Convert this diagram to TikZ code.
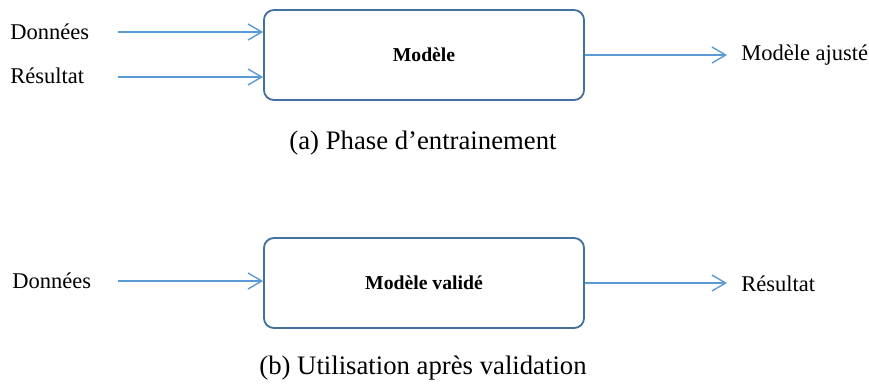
\documentclass[tikz,border=0pt]{standalone}
\usepackage{fontspec}
\setmainfont{Liberation Serif}
\usetikzlibrary{arrows.meta}
\definecolor{boxblue}{HTML}{41719C}
\definecolor{arrowblue}{HTML}{5B9BD5}

\begin{document}
\begin{tikzpicture}[x=0.025cm, y=-0.025cm,
  modelbox/.style={draw=boxblue, line width=1.3pt, rounded corners=0.25cm, minimum width=8cm, minimum height=2.25cm, font=\fontsize{14}{16}\selectfont\bfseries},
  flow/.style={draw=arrowblue, line width=1pt, -{Straight Barb[length=0.34cm, width=0.4cm]}},
  label/.style={font=\fontsize{16}{18}\selectfont, inner sep=0pt},
  caption/.style={font=\fontsize{19}{21}\selectfont, inner sep=0pt}]
\useasboundingbox (0,0) rectangle (869,384);
% Phase (a)
\node[modelbox] (train) at (424,55) {Modèle};
\node[label, anchor=west] (donA) at (10,32) {Données};
\node[label, anchor=west] (resA) at (10,76) {Résultat};
\node[label, anchor=west] (fit) at (741,55) {Modèle ajusté};
\coordinate (inA1) at (118,32);
\coordinate (inA2) at (118,77);
\coordinate (outA) at (727,55);
\draw[flow] (inA1) -- (inA1 -| train.west);
\draw[flow] (inA2) -- (inA2 -| train.west);
\draw[flow] (train.east) -- (outA);
\node[caption] (capA) at (423,143) {(a) Phase d’entrainement};
% Phase (b)
\node[modelbox] (use) at (424,283) {Modèle validé};
\node[label, anchor=west] (donB) at (12,281) {Données};
\node[label, anchor=west] (resB) at (741,284) {Résultat};
\coordinate (inB) at (118,281);
\coordinate (outB) at (727,283);
\draw[flow] (inB) -- (inB -| use.west);
\draw[flow] (use.east) -- (outB);
\node[caption] (capB) at (423,368) {(b) Utilisation après validation};
\end{tikzpicture}
\end{document}
